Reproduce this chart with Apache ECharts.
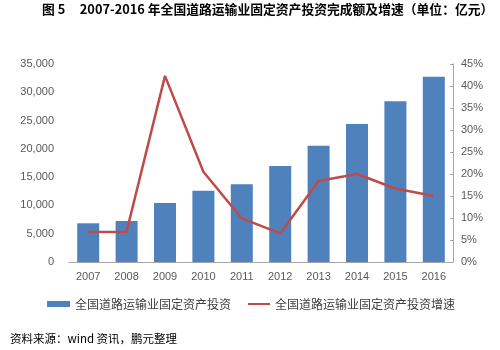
<!DOCTYPE html>
<html>
<head>
<meta charset="utf-8">
<script src="https://cdn.jsdelivr.net/npm/echarts@6/dist/echarts.min.js"></script>
<style>
  html, body { margin: 0; padding: 0; background: #fff; }
  #chart { width: 500px; height: 350px; }
</style>
</head>
<body>
<div id="chart"></div>
<script>
// Years on the category axis
const years = ['2007', '2008', '2009', '2010', '2011', '2012', '2013', '2014', '2015', '2016'];
// Road transport fixed asset investment (100 million yuan)
const investment = [6840, 7250, 10430, 12600, 13730, 16970, 20560, 24390, 28400, 32760];
// Year-on-year growth (%)
const growth = [6.8, 6.9, 42.3, 20.5, 9.9, 6.5, 18.4, 20.0, 16.7, 15.0];

const barName = '全国道路运输业固定资产投资';
const lineName = '全国道路运输业固定资产投资增速';

const chart = echarts.init(document.getElementById('chart'), null, { renderer: 'canvas' });
const axisText = { color: '#595959', fontSize: 11, fontFamily: 'Liberation Sans, Arial, sans-serif' };

chart.setOption({
  animation: false,
  backgroundColor: '#fff',
  title: {
    text: '图 5     2007-2016 年全国道路运输业固定资产投资完成额及增速（单位：亿元）',
    left: 42,
    top: 3,
    padding: 0,
    textStyle: { fontSize: 12.8, fontWeight: 'bold', color: '#000', fontFamily: 'Noto Sans CJK SC, Liberation Serif, serif' }
  },
  graphic: [{
    type: 'text',
    left: 10,
    top: 333,
    style: { text: '资料来源：wind 资讯，鹏元整理', fontSize: 11.5, fill: '#000', fontFamily: 'Noto Sans CJK SC, Liberation Serif, serif' }
  }],
  legend: [
    {
      data: [barName], left: 47, top: 298, padding: 0, icon: 'rect', itemWidth: 23, itemHeight: 6,
      textStyle: { color: '#404040', fontSize: 12, fontFamily: 'Noto Sans CJK SC, sans-serif' }
    },
    {
      data: [lineName], left: 248, top: 298, padding: 0, icon: 'rect', itemWidth: 22, itemHeight: 2,
      textStyle: { color: '#404040', fontSize: 12, fontFamily: 'Noto Sans CJK SC, sans-serif' }
    }
  ],
  grid: { left: 69, right: 47, top: 64, bottom: 88, containLabel: false },
  xAxis: {
    type: 'category',
    data: years,
    axisLine: { lineStyle: { color: '#a6a6a6' } },
    axisTick: { show: false },
    axisLabel: Object.assign({ margin: 9 }, axisText)
  },
  yAxis: [
    {
      type: 'value', min: 0, max: 35000, interval: 5000,
      axisLine: { show: false }, axisTick: { show: false },
      splitLine: { show: false },
      axisLabel: Object.assign({
        margin: 15,
        formatter: v => v.toLocaleString('en-US')
      }, axisText)
    },
    {
      type: 'value', min: 0, max: 45, interval: 5,
      axisLine: { show: true, lineStyle: { color: '#a6a6a6' } },
      axisTick: { show: true, inside: true, length: 3, lineStyle: { color: '#a6a6a6' } },
      splitLine: { show: false },
      axisLabel: Object.assign({ margin: 8, formatter: v => v + '%' }, axisText)
    }
  ],
  series: [
    {
      name: barName,
      type: 'bar',
      data: investment,
      barWidth: 22,
      itemStyle: { color: '#4f81bd' },
      yAxisIndex: 0
    },
    {
      name: lineName,
      type: 'line',
      data: growth,
      yAxisIndex: 1,
      symbol: 'none',
      lineStyle: { color: '#be4b48', width: 2.5 },
      itemStyle: { color: '#be4b48' }
    }
  ]
});
</script>
</body>
</html>
